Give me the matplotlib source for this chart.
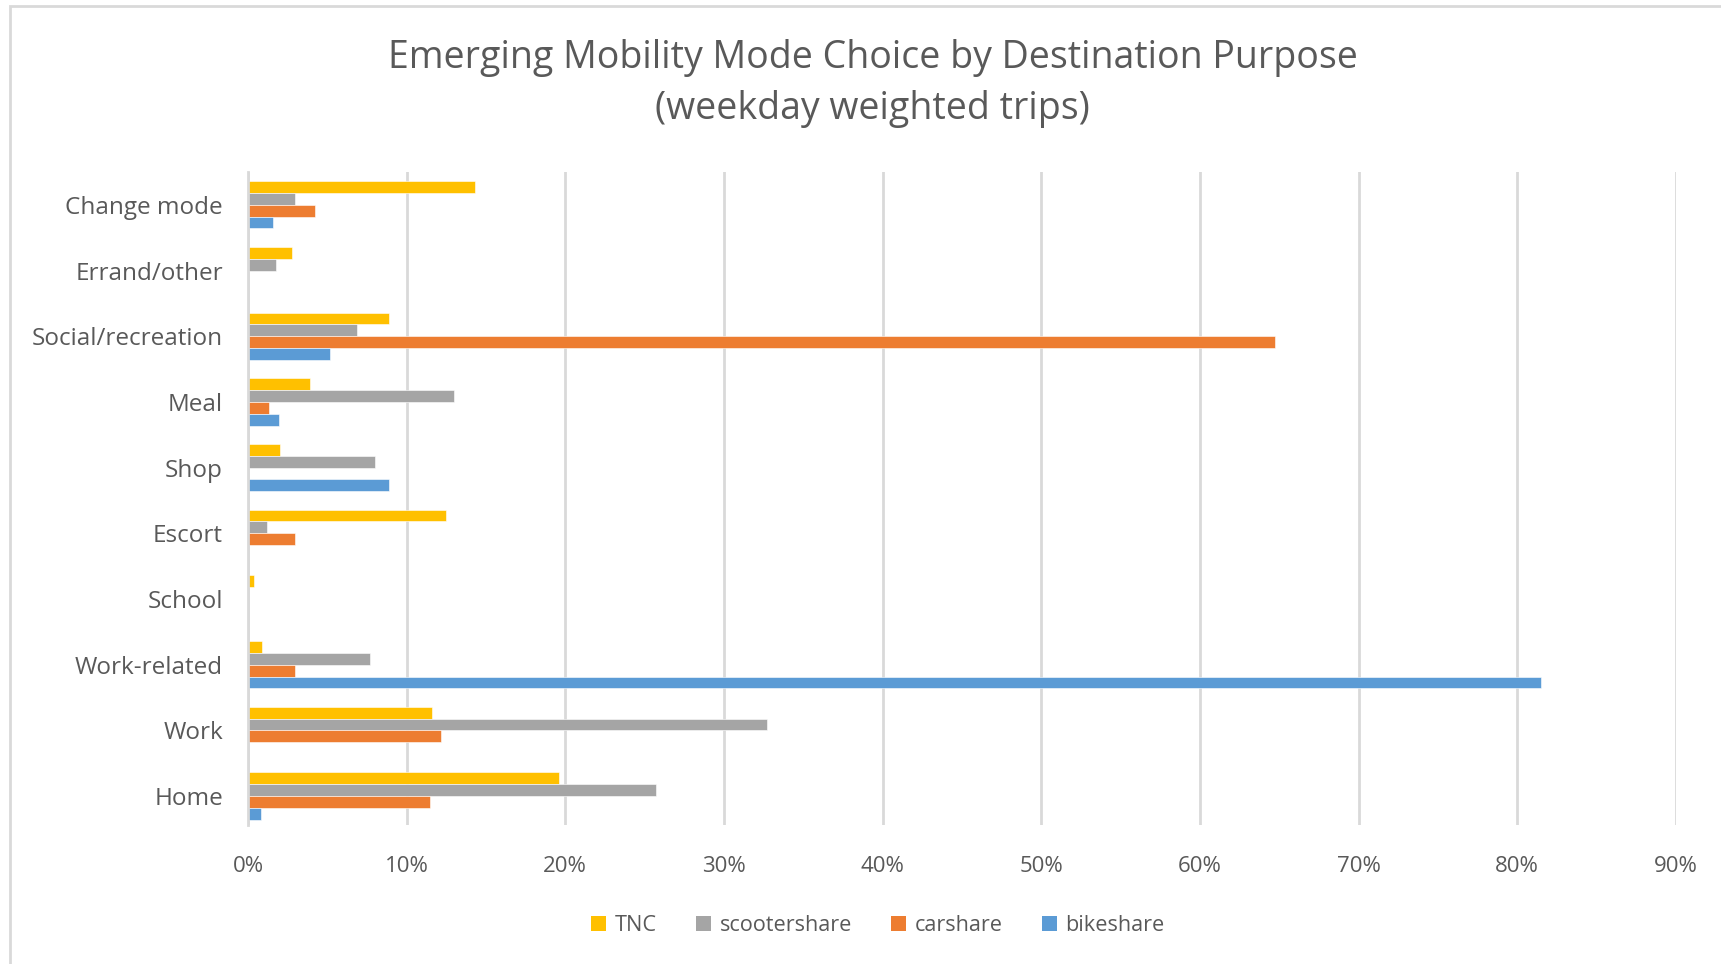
import numpy as np
import matplotlib.pyplot as plt
from matplotlib.patches import Patch, Rectangle
from matplotlib.ticker import FuncFormatter

plt.rcParams['font.family'] = ['Open Sans', 'DejaVu Sans']

# Destination purposes, bottom to top as drawn
purposes = ['Home', 'Work', 'Work-related', 'School', 'Escort', 'Shop',
            'Meal', 'Social/recreation', 'Errand/other', 'Change mode']

# Share of weekday weighted trips (%)
tnc = [19.6, 11.6, 0.9, 0.4, 12.5, 2.0, 3.9, 8.9, 2.8, 14.3]
scootershare = [25.7, 32.7, 7.7, 0.0, 1.2, 8.0, 13.0, 6.9, 1.75, 2.95]
carshare = [11.5, 12.15, 2.95, 0.0, 2.95, 0.0, 1.3, 64.7, 0.0, 4.25]
bikeshare = [0.8, 0.0, 81.5, 0.0, 0.0, 8.9, 1.95, 5.15, 0.0, 1.55]

series = [('TNC', tnc, '#FFC000'),
          ('scootershare', scootershare, '#A5A5A5'),
          ('carshare', carshare, '#ED7D31'),
          ('bikeshare', bikeshare, '#5B9BD5')]

text_col = '#595959'
grid_col = '#D9D9D9'

fig = plt.figure(figsize=(17.21, 9.64), dpi=100)
ax = fig.add_axes([0.1441, 0.1442, 0.8297, 0.6774])

# frame around the chart area
fig.patches.append(Rectangle((10 / 1721, -0.01), 1.0, 1 - 6 / 964 + 0.01,
                             transform=fig.transFigure, fill=False,
                             edgecolor=grid_col, linewidth=2))

y = np.arange(len(purposes))
h = 0.18
for i, (name, vals, col) in enumerate(series):
    ax.barh(y + (1.5 - i) * h, vals, height=h, color=col, label=name,
            edgecolor='white', linewidth=0.4)

ax.set_xlim(0, 90)
ax.set_ylim(-0.44, len(purposes) - 0.5)
ax.set_xticks(np.arange(0, 91, 10))
ax.xaxis.set_major_formatter(FuncFormatter(lambda v, p: f'{v:.0f}%'))
ax.set_yticks(y)
ax.set_yticklabels(purposes)
ax.tick_params(axis='both', length=0, colors=text_col)
ax.tick_params(axis='x', pad=22, labelsize=16)
ax.tick_params(axis='y', pad=18, labelsize=17.5)
ax.grid(axis='x', color=grid_col, linewidth=2)
ax.set_axisbelow(True)
for s in ['top', 'right', 'bottom']:
    ax.spines[s].set_visible(False)
ax.spines['left'].set_color(grid_col)
ax.spines['left'].set_linewidth(2)

fig.text(0.507, 0.913, 'Emerging Mobility Mode Choice by Destination Purpose\n(weekday weighted trips)',
         ha='center', va='center', fontsize=27, color=text_col, linespacing=1.45)

handles = [Patch(facecolor=c, label=n) for n, _, c in series]
fig.legend(handles=handles, loc='center', bbox_to_anchor=(0.51, 0.04), ncol=4,
           frameon=False, fontsize=15.6, labelcolor=text_col, handlelength=0.7,
           handleheight=0.7, handletextpad=0.4, columnspacing=1.8)

fig.savefig('out.png', dpi=100)
